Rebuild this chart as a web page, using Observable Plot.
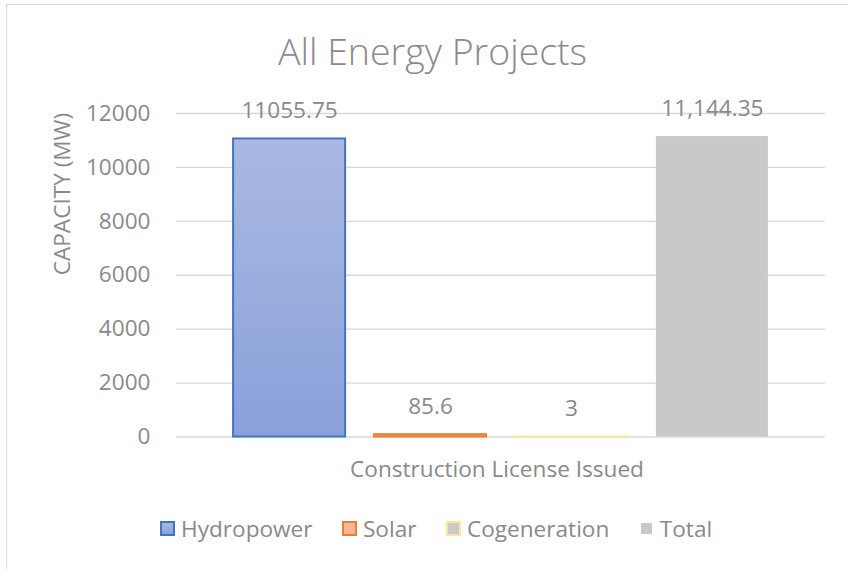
<!DOCTYPE html>
<html>
<head>
<meta charset="utf-8">
<script src="https://cdn.jsdelivr.net/npm/d3@7"></script>
<script src="https://cdn.jsdelivr.net/npm/@observablehq/plot@0.6"></script>
<style>
  html, body { margin: 0; padding: 0; background: #ffffff; }
  #wrap { position: relative; width: 848px; height: 569px; overflow: hidden; font-family: "Open Sans", sans-serif; color: #898989; }
  #chart { position: absolute; left: 0; top: 0; }
  #title { position: absolute; left: 0; width: 865px; top: 31.7px; text-align: center; font-size: 37.5px; line-height: 37.5px; font-weight: 300; color: #8a8a8a; white-space: nowrap; }
  #legend { position: absolute; left: 160px; top: 517.5px; display: flex; gap: 29.5px; font-size: 22.6px; line-height: 22.6px; white-space: nowrap; color: #898989; }
  #legend .item { display: flex; align-items: center; }
  #legend .sw { display: inline-block; width: 15px; height: 15px; box-sizing: border-box; margin-right: 6px; }
  #border { position: absolute; left: 6px; top: 4px; width: 1000px; height: 1000px; border: 1.5px solid #d9d9d9; pointer-events: none; }
</style>
</head>
<body>
<div id="wrap">
  <div id="chart"></div>
  <div id="title"></div>
  <div id="legend"></div>
  <div id="border"></div>
</div>
<script>
// ---- data ----
const chartTitle = "All Energy Projects";
const categories = ["Construction License Issued"];
const series = ["Hydropower", "Solar", "Cogeneration", "Total"];
const values = [11055.75, 85.6, 3, 11144.35];
const valueLabels = ["11055.75", "85.6", "3", "11,144.35"];
const yTicks = [0, 2000, 4000, 6000, 8000, 10000, 12000];
const yTitle = ["CAPACITY (MW)"];

// ---- styles ----
const barFills = ["url(#gHydro)", "url(#gSolar)", "url(#gCogen)", "#c9c9c9"];
const barStrokes = ["#4472c4", "#ed7d31", "#ffe699", "none"];
const swatchFills = ["linear-gradient(#aab9e2, #89a1da)", "#f5b69c", "#c9c9c9", "#c9c9c9"];

const data = series.map((s, i) => ({series: s, value: values[i], label: valueLabels[i]}));
const idx = d => series.indexOf(d.series);

const chart = Plot.plot({
  width: 848,
  height: 569,
  marginTop: 113,
  marginBottom: 132.5,
  marginLeft: 176,
  marginRight: 23,
  style: {fontFamily: "'Open Sans', sans-serif", fontSize: "22.6px", color: "#898989", background: "transparent", overflow: "visible"},
  x: {domain: series, paddingInner: 0.205, paddingOuter: 0.405, round: false, axis: null},
  y: {domain: [0, 12000]},
  color: {type: "identity"},
  marks: [
    Plot.gridY(yTicks, {stroke: "#d9d9d9", strokeOpacity: 1, strokeWidth: 1.3}),
    Plot.axisY(yTicks, {tickSize: 0, tickPadding: 26, tickFormat: "d", label: null}),
    Plot.barY(data, {
      x: "series",
      y: "value",
      fill: d => barFills[idx(d)],
      stroke: d => barStrokes[idx(d)],
      strokeWidth: 2
    }),
    Plot.text(data, {x: "series", y: "value", text: "label", lineAnchor: "bottom", dy: -21}),
    Plot.text(categories, {text: d => d, frameAnchor: "bottom", lineAnchor: "bottom", dy: 39.5, dx: -4}),
    Plot.text(yTitle, {text: d => d, frameAnchor: "left", rotate: -90, dx: -114})
  ]
});

const defs = document.createElementNS("http://www.w3.org/2000/svg", "defs");
defs.innerHTML =
  '<linearGradient id="gHydro" x1="0" y1="0" x2="0" y2="1"><stop offset="0" stop-color="#aab9e2"/><stop offset="1" stop-color="#89a1da"/></linearGradient>' +
  '<linearGradient id="gSolar" x1="0" y1="0" x2="0" y2="1"><stop offset="0" stop-color="#f8c9ad"/><stop offset="1" stop-color="#f4b183"/></linearGradient>' +
  '<linearGradient id="gCogen" x1="0" y1="0" x2="0" y2="1"><stop offset="0" stop-color="#fff2cc"/><stop offset="1" stop-color="#ffe699"/></linearGradient>';
chart.insertBefore(defs, chart.firstChild);
document.getElementById("chart").appendChild(chart);

document.getElementById("title").textContent = chartTitle;

const legend = document.getElementById("legend");
series.forEach((s, i) => {
  const item = document.createElement("span");
  item.className = "item";
  const sw = document.createElement("span");
  sw.className = "sw";
  sw.style.background = swatchFills[i];
  if (barStrokes[i] !== "none") {
    sw.style.border = "2px solid " + barStrokes[i];
  } else {
    sw.style.width = "11px";
    sw.style.height = "11px";
    sw.style.margin = "0 8px 0 2px";
  }
  const label = document.createElement("span");
  label.textContent = s;
  item.appendChild(sw);
  item.appendChild(label);
  legend.appendChild(item);
});
</script>
</body>
</html>
